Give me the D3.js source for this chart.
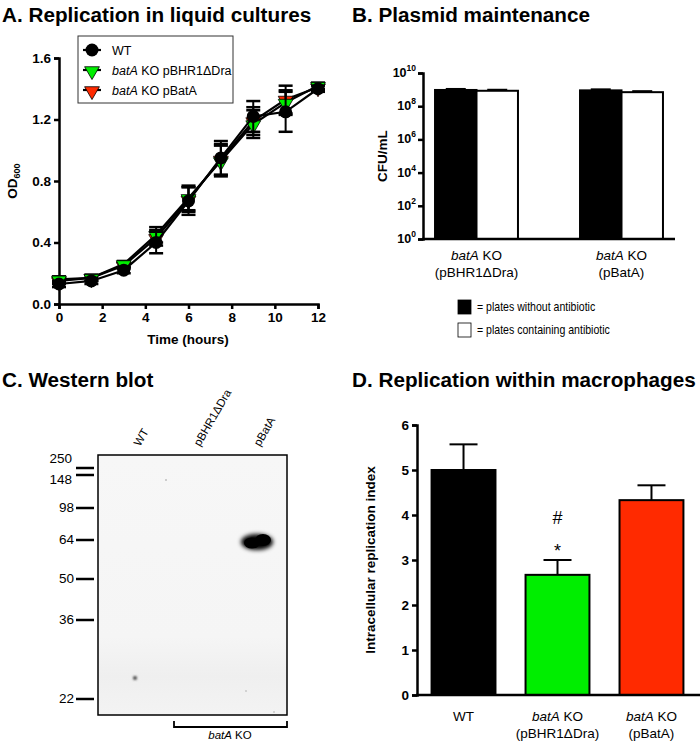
<!DOCTYPE html>
<html>
<head>
<meta charset="utf-8">
<script src="https://cdn.jsdelivr.net/npm/d3@7"></script>
<style>
body { margin: 0; background: #fff; }
svg { font-family: "Liberation Sans", Arial, sans-serif; }
</style>
</head>
<body>
<svg id="fig" width="700" height="743"></svg>
<script>
// Panel A data: growth curves (OD600 vs hours)
var hours = [0, 1.5, 3, 4.5, 6, 7.5, 9, 10.5, 12];
var wtOD = [0.13, 0.15, 0.22, 0.40, 0.67, 0.95, 1.22, 1.25, 1.40];
var wtErr = [0.02, 0.02, 0.02, 0.07, 0.09, 0.11, 0.10, 0.13, 0.02];
var dvOD = [0.16, 0.17, 0.26, 0.45, 0.69, 0.93, 1.17, 1.31, 1.42];
var dvErr = [0.02, 0.02, 0.02, 0.05, 0.08, 0.10, 0.09, 0.08, 0.02];
var paOD = [0.15, 0.17, 0.25, 0.43, 0.68, 0.94, 1.19, 1.33, 1.41];
var paErr = [0.02, 0.02, 0.02, 0.05, 0.08, 0.10, 0.09, 0.09, 0.02];

// Panel B data: CFU/mL
var bGroups = ["(pBHR1\u0394Dra)", "(pBatA)"];
var noAbx = [9.5e8, 9.0e8];
var withAbx = [8.5e8, 7.0e8];
var bTicks = [0, 2, 4, 6, 8, 10];

// Panel C data: marker ladder (kDa)
var ladder = [250, 148, 98, 64, 50, 36, 22];
var lanes = ["WT", "pBHR1\u0394Dra", "pBatA"];

// Panel D data: intracellular replication index
var dCats = ["WT", "pBHR1\u0394Dra", "pBatA"];
var dVals = [5.0, 2.67, 4.33];
var dErr = [0.57, 0.33, 0.33];
var dColors = ["#000000", "#00ee00", "#ff2a00"];

var svg = d3.select("#fig");

function title(x, y, t) {
	svg.append("text").attr("x", x).attr("y", y)
		.attr("font-size", 20.7).attr("font-weight", "bold").text(t);
}
title(2, 22, "A.  Replication in liquid cultures");
title(352, 22, "B.  Plasmid maintenance");
title(2, 387, "C.  Western blot");
title(352, 387, "D.  Replication within macrophages");

function styleAxis(g) {
	g.selectAll("path, line").attr("stroke", "#000").attr("stroke-width", 2.5);
	g.selectAll("text").attr("font-size", 13.5).attr("font-weight", "bold")
		.attr("font-family", "Liberation Sans, Arial, sans-serif").attr("fill", "#000");
}

// ---------------- Panel A ----------------
var xA = d3.scaleLinear().domain([0, 12]).range([59, 318]);
var yA = d3.scaleLinear().domain([0, 1.6]).range([304, 58]);
var gA = svg.append("g");

gA.append("g").attr("transform", "translate(0,304)")
	.call(d3.axisBottom(xA).tickValues([0, 2, 4, 6, 8, 10, 12]).tickFormat(d3.format("d")).tickSizeOuter(0).tickSize(5))
	.call(styleAxis);
gA.append("g").attr("transform", "translate(59,0)")
	.call(d3.axisLeft(yA).tickValues([0, 0.4, 0.8, 1.2, 1.6]).tickFormat(d3.format(".1f")).tickSizeOuter(0).tickSize(5))
	.call(styleAxis);

gA.append("text").attr("x", 188).attr("y", 344).attr("text-anchor", "middle")
	.attr("font-size", 13.5).attr("font-weight", "bold").text("Time (hours)");
var yl = gA.append("text").attr("transform", "translate(17,181) rotate(-90)")
	.attr("text-anchor", "middle").attr("font-size", 13.5).attr("font-weight", "bold");
yl.append("tspan").text("OD");
yl.append("tspan").attr("font-size", 9).attr("dy", 3).text("600");

var seriesA = [
	{ vals: paOD, err: paErr, fill: "#ff2a00", shape: "tri" },
	{ vals: dvOD, err: dvErr, fill: "#00ee00", shape: "tri" },
	{ vals: wtOD, err: wtErr, fill: "#000000", shape: "circle" }
];
var line = d3.line().x(function(d, i) { return xA(hours[i]); }).y(function(d) { return yA(d); });
var triSym = d3.symbol().type(d3.symbolTriangle).size(95);

seriesA.forEach(function(s) {
	var g = gA.append("g");
	// error bars
	hours.forEach(function(h, i) {
		var x = xA(h), y1 = yA(s.vals[i] + s.err[i]), y2 = yA(s.vals[i] - s.err[i]);
		g.append("line").attr("x1", x).attr("x2", x).attr("y1", y1).attr("y2", y2)
			.attr("stroke", "#000").attr("stroke-width", 2);
		[y1, y2].forEach(function(yy) {
			g.append("line").attr("x1", x - 7).attr("x2", x + 7).attr("y1", yy).attr("y2", yy)
				.attr("stroke", "#000").attr("stroke-width", 2.5);
		});
	});
	g.append("path").datum(s.vals).attr("d", line).attr("fill", "none")
		.attr("stroke", "#000").attr("stroke-width", 2.2);
	s.vals.forEach(function(v, i) {
		if (s.shape === "circle") {
			g.append("circle").attr("cx", xA(hours[i])).attr("cy", yA(v)).attr("r", 6.5).attr("fill", "#000");
		} else {
			g.append("path").attr("d", triSym)
				.attr("transform", "translate(" + xA(hours[i]) + "," + (yA(v) + 1) + ") rotate(180)")
				.attr("fill", s.fill).attr("stroke", "#000").attr("stroke-width", 0.8);
		}
	});
});

// legend A
gA.append("rect").attr("x", 78).attr("y", 36).attr("width", 155).attr("height", 67)
	.attr("fill", "#fff").attr("stroke", "#333").attr("stroke-width", 1);
var legA = [
	{ fill: "#000", shape: "circle", pre: "", post: "WT" },
	{ fill: "#00ee00", shape: "tri", pre: "batA", post: " KO pBHR1\u0394Dra" },
	{ fill: "#ff2a00", shape: "tri", pre: "batA", post: " KO pBatA" }
];
legA.forEach(function(d, i) {
	var y = 50 + i * 20;
	gA.append("line").attr("x1", 83).attr("x2", 101).attr("y1", y).attr("y2", y)
		.attr("stroke", "#000").attr("stroke-width", 2.2);
	if (d.shape === "circle") {
		gA.append("circle").attr("cx", 92).attr("cy", y).attr("r", 6.5).attr("fill", "#000");
	} else {
		gA.append("path").attr("d", triSym).attr("transform", "translate(92," + (y + 1) + ") rotate(180)")
			.attr("fill", d.fill).attr("stroke", "#000").attr("stroke-width", 0.8);
	}
	var t = gA.append("text").attr("x", 112).attr("y", y + 4.5).attr("font-size", 12.5);
	if (d.pre) t.append("tspan").attr("font-style", "italic").text(d.pre);
	t.append("tspan").text(d.post);
});

// ---------------- Panel B ----------------
var yB = d3.scaleLog().domain([1, 1e10]).range([239, 73]);
var x0B = d3.scaleBand().domain(bGroups).range([423, 675]).paddingInner(0.428).paddingOuter(0.083);
var gB = svg.append("g");
var bw = x0B.bandwidth() / 2;
bGroups.forEach(function(gname, i) {
	var x = x0B(gname);
	[[noAbx[i], "#000"], [withAbx[i], "#fff"]].forEach(function(p, j) {
		gB.append("line").attr("x1", x + bw * j + bw / 2).attr("x2", x + bw * j + bw / 2)
			.attr("y1", yB(p[0] * 1.15)).attr("y2", yB(p[0]))
			.attr("stroke", "#000").attr("stroke-width", 2);
		gB.append("line").attr("x1", x + bw * j + bw / 2 - 10).attr("x2", x + bw * j + bw / 2 + 10)
			.attr("y1", yB(p[0] * 1.15)).attr("y2", yB(p[0] * 1.15))
			.attr("stroke", "#000").attr("stroke-width", 2);
		gB.append("rect").attr("x", x + bw * j).attr("y", yB(p[0]))
			.attr("width", bw).attr("height", 239 - yB(p[0]))
			.attr("fill", p[1]).attr("stroke", "#000").attr("stroke-width", 2);
	});
});
gB.append("g").attr("transform", "translate(423,0)")
	.call(d3.axisLeft(yB).tickValues(bTicks.map(function(e) { return Math.pow(10, e); }))
		.tickFormat("").tickSizeOuter(0).tickSize(5))
	.call(styleAxis);
bTicks.forEach(function(e) {
	var t = gB.append("text").attr("x", 416).attr("y", yB(Math.pow(10, e)) + 4)
		.attr("text-anchor", "end").attr("font-size", 12.5).attr("font-weight", "bold");
	t.append("tspan").text("10");
	t.append("tspan").attr("font-size", 8.5).attr("dy", -6).text(e);
});
gB.append("line").attr("x1", 422).attr("x2", 675).attr("y1", 239).attr("y2", 239)
	.attr("stroke", "#000").attr("stroke-width", 2.5);
gB.append("text").attr("transform", "translate(387,156) rotate(-90)").attr("text-anchor", "middle")
	.attr("font-size", 13.5).attr("font-weight", "bold").text("CFU/mL");
bGroups.forEach(function(gname) {
	var cx = x0B(gname) + x0B.bandwidth() / 2;
	var t = gB.append("text").attr("x", cx).attr("y", 260).attr("text-anchor", "middle").attr("font-size", 13.5);
	t.append("tspan").attr("font-style", "italic").text("batA");
	t.append("tspan").text(" KO");
	gB.append("text").attr("x", cx).attr("y", 277).attr("text-anchor", "middle").attr("font-size", 13.5).text(gname);
});
[["#000", "= plates without antibiotic", 300], ["#fff", "= plates containing antibiotic", 323]].forEach(function(d) {
	gB.append("rect").attr("x", 458).attr("y", d[2]).attr("width", 13).attr("height", 14)
		.attr("fill", d[0]).attr("stroke", "#000").attr("stroke-width", 0.8);
	gB.append("text").attr("x", 477).attr("y", d[2] + 11).attr("font-size", 12)
		.attr("transform", "translate(" + (477 * 0.12) + ",0) scale(0.88,1)").text(d[1]);
});

// ---------------- Panel C ----------------
var gC = svg.append("g");
// marker positions measured from the blot image
var ladderY = [468, 475, 508, 540, 579, 620, 699];
var labelY = [463, 484, 512, 544, 583, 624, 703];
var defs = svg.append("defs");
defs.append("filter").attr("id", "blur")
	.attr("x", "-50%").attr("y", "-50%").attr("width", "200%").attr("height", "200%")
	.append("feGaussianBlur").attr("stdDeviation", 2.2);
defs.append("filter").attr("id", "blur2")
	.attr("x", "-100%").attr("y", "-100%").attr("width", "300%").attr("height", "300%")
	.append("feGaussianBlur").attr("stdDeviation", 1.2);
var grad = defs.append("linearGradient").attr("id", "blotbg").attr("x1", 0).attr("x2", 0).attr("y1", 0).attr("y2", 1);
grad.append("stop").attr("offset", "0").attr("stop-color", "#f7f7f7");
grad.append("stop").attr("offset", "0.7").attr("stop-color", "#f5f5f5");
grad.append("stop").attr("offset", "0.85").attr("stop-color", "#efefef");
grad.append("stop").attr("offset", "1").attr("stop-color", "#f3f3f3");

gC.append("rect").attr("x", 98).attr("y", 455).attr("width", 189).attr("height", 260)
	.attr("fill", "url(#blotbg)");
gC.append("circle").attr("cx", 135).attr("cy", 678).attr("r", 2).attr("fill", "#444").attr("filter", "url(#blur2)");
gC.append("circle").attr("cx", 166).attr("cy", 480).attr("r", 0.8).attr("fill", "#999");
gC.append("circle").attr("cx", 246).attr("cy", 691).attr("r", 0.8).attr("fill", "#aaa");
gC.append("circle").attr("cx", 274).attr("cy", 712).attr("r", 0.8).attr("fill", "#aaa");
// pBatA band
gC.append("ellipse").attr("cx", 257).attr("cy", 542).attr("rx", 16).attr("ry", 8)
	.attr("fill", "#000").attr("filter", "url(#blur)");
gC.append("ellipse").attr("cx", 252).attr("cy", 543).attr("rx", 8).attr("ry", 5.5).attr("fill", "#000");
gC.append("ellipse").attr("cx", 263).attr("cy", 540).attr("rx", 8).attr("ry", 6).attr("fill", "#000");
gC.append("rect").attr("x", 98).attr("y", 455).attr("width", 189).attr("height", 260)
	.attr("fill", "none").attr("stroke", "#000").attr("stroke-width", 1.5);

ladder.forEach(function(m, i) {
	gC.append("line").attr("x1", 76).attr("x2", 94).attr("y1", ladderY[i]).attr("y2", ladderY[i])
		.attr("stroke", "#000").attr("stroke-width", 2.5);
	gC.append("text").attr("x", i < 2 ? 72 : 74).attr("y", labelY[i]).attr("text-anchor", "end")
		.attr("font-size", 13.5).text(m);
});
var laneX = d3.scalePoint().domain(lanes).range([136, 256]);
lanes.forEach(function(l) {
	gC.append("text").attr("transform", "translate(" + (laneX(l) + 4) + ",447) rotate(-60)")
		.attr("font-size", 11.5).text(l);
});
gC.append("path").attr("d", "M174,721 V727 H287 V721").attr("fill", "none")
	.attr("stroke", "#000").attr("stroke-width", 1.8);
var tc = gC.append("text").attr("x", 230).attr("y", 739).attr("text-anchor", "middle").attr("font-size", 11.5);
tc.append("tspan").attr("font-style", "italic").text("batA");
tc.append("tspan").text(" KO");

// ---------------- Panel D ----------------
var gD = svg.append("g");
var xD = d3.scaleBand().domain(dCats).range([417, 698]).paddingInner(0.32).paddingOuter(0.155);
var yD = d3.scaleLinear().domain([0, 6]).range([695, 425]);
dCats.forEach(function(c, i) {
	var cx = xD(c) + xD.bandwidth() / 2;
	gD.append("line").attr("x1", cx).attr("x2", cx).attr("y1", yD(dVals[i] + dErr[i])).attr("y2", yD(dVals[i]))
		.attr("stroke", "#000").attr("stroke-width", 2);
	gD.append("line").attr("x1", cx - 14).attr("x2", cx + 14)
		.attr("y1", yD(dVals[i] + dErr[i])).attr("y2", yD(dVals[i] + dErr[i]))
		.attr("stroke", "#000").attr("stroke-width", 2);
	gD.append("rect").attr("x", xD(c)).attr("y", yD(dVals[i])).attr("width", xD.bandwidth())
		.attr("height", 695 - yD(dVals[i])).attr("fill", dColors[i]).attr("stroke", "#000").attr("stroke-width", 2);
});
gD.append("g").attr("transform", "translate(417,0)")
	.call(d3.axisLeft(yD).ticks(6).tickFormat(d3.format("d")).tickSizeOuter(0).tickSize(5))
	.call(styleAxis);
gD.append("line").attr("x1", 416).attr("x2", 700).attr("y1", 695).attr("y2", 695)
	.attr("stroke", "#000").attr("stroke-width", 2.5);
gD.append("text").attr("transform", "translate(375,560) rotate(-90)").attr("text-anchor", "middle")
	.attr("font-size", 13.5).attr("font-weight", "bold").text("Intracellular replication index");
var cxG = xD(dCats[1]) + xD.bandwidth() / 2;
gD.append("text").attr("x", cxG).attr("y", 524).attr("text-anchor", "middle").attr("font-size", 18).text("#");
gD.append("text").attr("x", cxG).attr("y", 557).attr("text-anchor", "middle").attr("font-size", 18).text("*");
dCats.forEach(function(c, i) {
	var cx = xD(c) + xD.bandwidth() / 2;
	if (i === 0) {
		gD.append("text").attr("x", cx).attr("y", 721).attr("text-anchor", "middle").attr("font-size", 13.5).text("WT");
	} else {
		var t = gD.append("text").attr("x", cx).attr("y", 721).attr("text-anchor", "middle").attr("font-size", 13.5);
		t.append("tspan").attr("font-style", "italic").text("batA");
		t.append("tspan").text(" KO");
		gD.append("text").attr("x", cx).attr("y", 738).attr("text-anchor", "middle").attr("font-size", 13.5).text("(" + c + ")");
	}
});
</script>
</body>
</html>
